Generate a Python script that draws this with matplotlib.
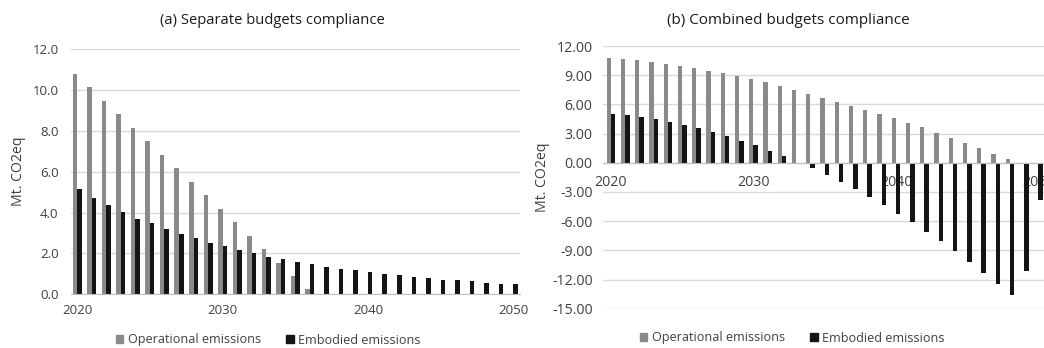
import matplotlib
matplotlib.use("Agg")
import matplotlib.pyplot as plt
from matplotlib.patches import Patch
import numpy as np

plt.rcParams['font.family'] = ['Open Sans', 'DejaVu Sans']

# Years covered by both scenarios
years = list(range(2020, 2051))

# (a) Separate budgets compliance, Mt CO2eq
sep_operational = [10.78, 10.14, 9.47, 8.82, 8.13, 7.51, 6.82, 6.19, 5.50, 4.87,
                   4.16, 3.53, 2.85, 2.22, 1.55, 0.90, 0.24, 0, 0, 0,
                   0, 0, 0, 0, 0, 0, 0, 0, 0, 0, 0]
sep_embodied = [5.14, 4.72, 4.38, 4.03, 3.71, 3.48, 3.20, 2.97, 2.76, 2.53,
                2.35, 2.19, 2.00, 1.83, 1.71, 1.57, 1.47, 1.36, 1.24, 1.18,
                1.09, 1.01, 0.95, 0.87, 0.78, 0.72, 0.69, 0.65, 0.57, 0.52, 0.49]

# (b) Combined budgets compliance, Mt CO2eq
comb_operational = [10.73, 10.66, 10.52, 10.35, 10.11, 9.98, 9.70, 9.46, 9.22, 8.95,
                    8.60, 8.26, 7.85, 7.47, 7.06, 6.62, 6.24, 5.83, 5.45, 4.97,
                    4.56, 4.05, 3.63, 3.02, 2.57, 2.02, 1.51, 0.93, 0.41, 0, 0]
comb_embodied = [5.04, 4.90, 4.73, 4.49, 4.18, 3.87, 3.53, 3.12, 2.71, 2.26,
                 1.78, 1.25, 0.72, 0.0, -0.58, -1.27, -2.02, -2.71, -3.57, -4.39,
                 -5.25, -6.14, -7.13, -8.09, -9.12, -10.15, -11.28, -12.41, -13.61, -11.11, -3.84]

tick_years = [2020, 2030, 2040, 2050]
series_labels = ["Operational emissions", "Embodied emissions"]
ylabel = "Mt. CO2eq"
titles = ["(a) Separate budgets compliance", "(b) Combined budgets compliance"]

GREY = "#8a8a8a"
BLACK = "#141414"
GRID = "#d9d9d9"
TXT = "#404040"

W, H = 1044, 348
fig = plt.figure(figsize=(W / 100, H / 100), dpi=100)


def px_axes(x0, x1, ytop, ybot):
    return fig.add_axes([x0 / W, 1 - ybot / H, (x1 - x0) / W, (ybot - ytop) / H])


def draw(ax, op, em, ylim, yticks, fmt, xlim, ypad, fs):
    x = np.array(years, dtype=float)
    bw = 0.31
    ax.bar(x - bw / 2, op, width=bw, color=GREY, zorder=3)
    ax.bar(x + bw / 2, em, width=bw, color=BLACK, zorder=3)
    ax.set_xlim(*xlim)
    ax.set_ylim(*ylim)
    ax.set_yticks(yticks)
    ax.set_yticklabels([fmt.format(v) for v in yticks])
    ax.set_xticks(tick_years)
    ax.set_xticklabels([str(t) for t in tick_years])
    ax.grid(axis='y', color=GRID, linewidth=1.0, zorder=0)
    for s in ['top', 'right', 'left']:
        ax.spines[s].set_visible(False)
    ax.spines['bottom'].set_color("#bfbfbf")
    ax.spines['bottom'].set_zorder(4)
    ax.tick_params(axis='both', length=0, labelsize=fs, labelcolor=TXT)
    ax.tick_params(axis='y', pad=ypad)
    ax.set_facecolor('none')


# Panel (a)
ax1 = px_axes(71, 520, 49.3, 294.3)
draw(ax1, sep_operational, sep_embodied, (0, 12), np.arange(0, 12.1, 2),
     "{:.1f}", (2019.57, 2050.46), 9, 9.5)
ax1.tick_params(axis='x', pad=7)

# Panel (b)
ax2 = px_axes(603, 1044, 46, 308.7)
draw(ax2, comb_operational, comb_embodied, (-15, 12), np.arange(-15, 12.1, 3),
     "{:.2f}", (2019.44, 2050.39), 7.5, 10.2)
ax2.spines['bottom'].set_position(('data', 0))
ax2.tick_params(axis='x', pad=9)

# Axis titles and panel titles
fig.text(18 / W, 1 - 171 / H, ylabel, rotation=90, ha='center', va='center',
         fontsize=10.2, color=TXT)
fig.text(543 / W, 1 - 177 / H, ylabel, rotation=90, ha='center', va='center',
         fontsize=10.2, color=TXT)
fig.text(272 / W, 1 - 21 / H, titles[0], ha='center', va='center',
         fontsize=10.6, color="#1a1a1a")
fig.text(788 / W, 1 - 21 / H, titles[1], ha='center', va='center',
         fontsize=11.0, color="#1a1a1a")

handles = [Patch(color=GREY, label=series_labels[0]),
           Patch(color=BLACK, label=series_labels[1])]
for cx, cy in [(268, 340), (792, 338)]:
    fig.legend(handles=handles, loc='center', bbox_to_anchor=(cx / W, 1 - cy / H),
               ncol=2, frameon=False, fontsize=9.1, handlelength=0.6,
               handleheight=0.6, handletextpad=0.35, columnspacing=2.0,
               labelcolor=TXT)

fig.savefig("out.png", dpi=100, facecolor='white')
